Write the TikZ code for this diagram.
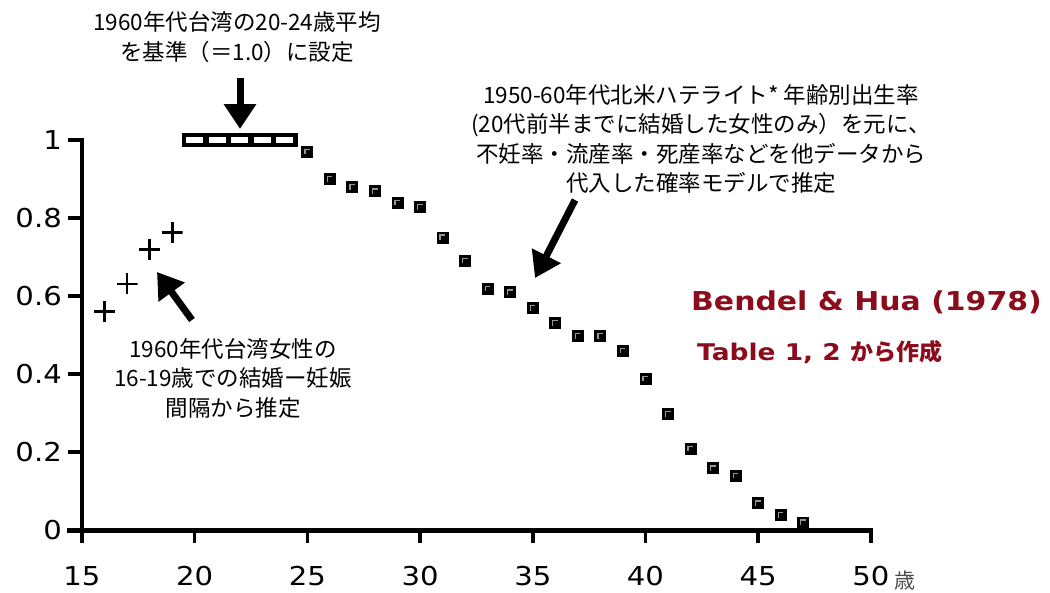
\documentclass[tikz,border=0pt]{standalone}
\usepackage{fontspec}
\usetikzlibrary{arrows.meta}
\setmainfont{DejaVu Sans}
\newfontfamily\jp{Noto Sans CJK JP}
\newfontfamily\axf{DejaVu Sans}[FakeStretch=1.12]
\newfontfamily\ttlf{DejaVu Sans}[FakeStretch=1.15]
\definecolor{darkred}{RGB}{140,12,28}
\definecolor{markgray}{RGB}{150,150,150}
\begin{document}
\begin{tikzpicture}[x=1pt,y=-1pt,
  arr/.style={line width=7pt,-{Triangle[width=31pt,length=25pt]}},
  ann/.style={font=\jp\fontsize{22.5}{29.5}\selectfont,align=center,inner sep=0pt},
  dmark/.style={rectangle,fill=black,minimum size=12pt,inner sep=0pt,
    path picture={\draw[markgray,line width=1.3pt]
      ([xshift=3.5pt,yshift=-8.5pt]path picture bounding box.north west) |-
      ([xshift=8.5pt,yshift=-3.5pt]path picture bounding box.north west);}},
  cmark/.style={rectangle,minimum size=21pt,inner sep=0pt,
    path picture={\draw[line width=2.8pt]
      (path picture bounding box.north) -- (path picture bounding box.south)
      (path picture bounding box.west) -- (path picture bounding box.east);}},
  cell/.style={rectangle,fill=white,minimum width=17pt,minimum height=5.6pt,inner sep=0pt},
  tick/.style={line width=4pt},
  xtick/.style={line width=3.5pt},
  xl/.style={font=\axf\fontsize{26}{30}\selectfont,inner sep=0pt},
  yl/.style={font=\axf\fontsize{26}{30}\selectfont,inner sep=0pt,anchor=east}]
\useasboundingbox (0,0) rectangle (1050,592);
\fill[white] (0,0) rectangle (1050,592);

\begin{scope}[shift={(82,530)},x=22.54pt,y=390pt,shift={(-15,0)}]
  % axes
  \draw[line width=5pt] ([xshift=-15pt]15,0) -- ([xshift=2pt]50,0);
  \draw[line width=4.5pt] (15,1.004) -- (15,0);
  \foreach \v in {0,0.2,0.4,0.6,0.8,1} {
    \draw[tick] (15,\v) -- ++(-14pt,0pt);
    \node[yl] at (15,\v) [xshift=-20pt] {\v};
  }
  \foreach \a in {15,20,...,50} {
    \draw[xtick] (\a,0) -- ++(0pt,-13pt);
    \node[xl] at (\a,0) [yshift=-46pt] {\a};
  }
  % reference bar
  \node[fill=black,minimum width=116pt,minimum height=14pt,inner sep=0pt] (bar) at (22.0,1) [yshift=0.3pt] {};
  \foreach \a in {20,...,24} \node[cell] (b\a) at (\a,1) [yshift=0.3pt] {};
  % model data
  \foreach \a/\v in {25/0.970,26/0.900,27/0.879,28/0.868,29/0.839,30/0.828,31/0.750,
      32/0.690,33/0.618,34/0.609,35/0.569,36/0.530,37/0.497,38/0.497,39/0.459,
      40/0.388,41/0.297,42/0.208,43/0.158,44/0.139,45/0.068,46/0.038,47/0.019}
    \node[dmark] (p\a) at (\a,\v) {};
  % Taiwan teen data
  \foreach \a/\v in {16/0.560,17/0.631,18/0.720,19/0.762}
    \node[cmark] (c\a) at (\a,\v) {};
\end{scope}

\node[inner sep=0pt,font=\jp\fontsize{21}{23}\selectfont,text=black!70] (sai) at (905,581) {歳};

% annotations
\node[ann] (t1) at (237,37) {1960年代台湾の20-24歳平均\\を基準（＝1.0）に設定};
\node[ann] (t2) at (701,139) {1950-60年代北米ハテライト* 年齢別出生率\\(20代前半までに結婚した女性のみ）を元に、\\不妊率・流産率・死産率などを他データから\\代入した確率モデルで推定};
\node[ann] (t3) at (233,378) {1960年代台湾女性の\\16-19歳での結婚ー妊娠\\間隔から推定};

\node[anchor=west,inner sep=0pt,text=darkred,font=\ttlf\bfseries\fontsize{26}{30}\selectfont] (bh) at (691,302) {Bendel \& Hua (1978)};
\node[anchor=west,inner sep=0pt,text=darkred,font=\ttlf\bfseries\fontsize{23}{26}\selectfont] (tb) at (697,352) {Table 1, 2 {\jp\bfseries から作成}};

% arrows
\coordinate (a1s) at (240,78);  \coordinate (a1e) at (240,129);
\coordinate (a2s) at (575,200); \coordinate (a2e) at (535,278);
\coordinate (a3s) at (192,320); \coordinate (a3e) at (157,272);
\draw[arr] (a1s) -- (a1e);
\draw[arr] (a2s) -- (a2e);
\draw[arr] (a3s) -- (a3e);
\end{tikzpicture}
\end{document}
